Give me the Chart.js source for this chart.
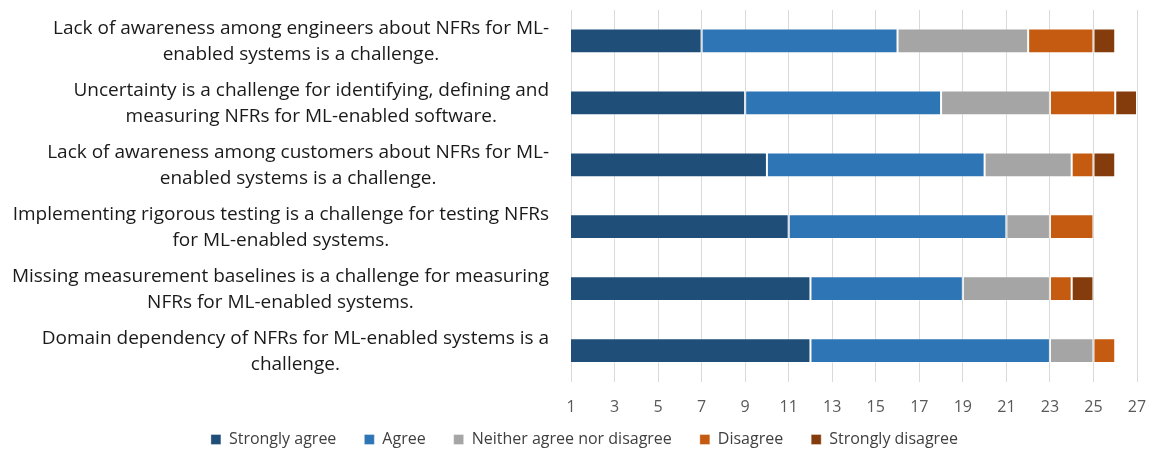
<!DOCTYPE html>
<html>
<head>
<meta charset="utf-8">
<script src="https://cdn.jsdelivr.net/npm/chart.js@4.4.1/dist/chart.umd.min.js"></script>
<style>
  html, body { margin: 0; padding: 0; background: #fff; }
  #wrap { width: 1150px; height: 453px; position: relative; }
</style>
</head>
<body>
<div id="wrap"><canvas id="myChart"></canvas></div>
<script>
// categorías (cada una en dos líneas, como en el original)
const categorias = [
    ['Lack of awareness among engineers about NFRs for ML-', 'enabled systems is a challenge.'],
    ['Uncertainty is a challenge for identifying, defining and', 'measuring NFRs for ML-enabled software.'],
    ['Lack of awareness among customers about NFRs for ML-', 'enabled systems is a challenge.'],
    ['Implementing rigorous testing is a challenge for testing NFRs', 'for ML-enabled systems.'],
    ['Missing measurement baselines is a challenge for measuring', 'NFRs for ML-enabled systems.'],
    ['Domain dependency of NFRs for ML-enabled systems is a', 'challenge.']
];

// respuestas por categoría
const stronglyAgree    = [7, 9, 10, 11, 12, 12];
const agree            = [9, 9, 10, 10, 7, 11];
const neither          = [6, 5, 4, 2, 4, 2];
const disagree         = [3, 3, 1, 2, 1, 1];
const stronglyDisagree = [1, 1, 1, 0, 1, 0];

const serieNombres = ['Strongly agree', 'Agree', 'Neither agree nor disagree', 'Disagree', 'Strongly disagree'];
const serieColores = ['#1F4E79', '#2E75B6', '#A5A5A5', '#C55A11', '#843C0C'];

// eje x
const ejeMin = 1;
const ejeMax = 27;
const ejePaso = 2;

const FUENTE = '"Open Sans", "Noto Sans", sans-serif';

const datos = [stronglyAgree, agree, neither, disagree, stronglyDisagree];

// Etiquetas del eje y: bloque alineado a la derecha, líneas centradas dentro del bloque
const etiquetasY = {
    id: 'etiquetasY',
    afterDraw(chart) {
        const c = chart.ctx;
        const escala = chart.scales.y;
        const derecha = chart.chartArea.left - 22;
        const altoLinea = 26;
        c.save();
        c.font = '19px ' + FUENTE;
        c.fillStyle = '#1a1a1a';
        c.textAlign = 'center';
        c.textBaseline = 'middle';
        categorias.forEach((lineas, i) => {
            const yc = escala.getPixelForValue(i) + 1;
            const bloque = Math.max(...lineas.map(l => c.measureText(l).width));
            const centro = derecha - bloque / 2;
            lineas.forEach((l, j) => {
                c.fillText(l, centro, yc + (j - (lineas.length - 1) / 2) * altoLinea);
            });
        });
        c.restore();
    }
};

// Leyenda más baja y un poco a la derecha
const leyendaAjuste = {
    id: 'leyendaAjuste',
    beforeInit(chart) {
        const leyenda = chart.legend;
        const fitOriginal = leyenda.fit;
        leyenda.fit = function () {
            fitOriginal.call(this);
            this.height = 49.5;
        };
        const drawOriginal = leyenda._draw;
        leyenda._draw = function () {
            this.ctx.save();
            this.ctx.translate(12, 0);
            drawOriginal.call(this);
            this.ctx.restore();
        };
    }
};

const ctx = document.getElementById('myChart');
new Chart(ctx, {
    type: 'bar',
    data: {
        labels: categorias,
        datasets: datos.map((d, i) => ({
            label: serieNombres[i],
            data: d,
            backgroundColor: serieColores[i],
            borderColor: 'rgba(255,255,255,0.35)',
            borderWidth: 1,
            borderSkipped: false,
            barPercentage: 0.4,
            categoryPercentage: 1
        }))
    },
    plugins: [etiquetasY, leyendaAjuste],
    options: {
        indexAxis: 'y',
        responsive: true,
        maintainAspectRatio: false,
        animation: false,
        layout: { padding: { left: 8, right: 13, top: 10, bottom: 0 } },
        scales: {
            x: {
                stacked: true,
                min: ejeMin,
                max: ejeMax,
                border: { display: false },
                grid: { color: '#D9D9D9', drawTicks: false },
                afterFit: (scale) => {
                    scale.height = 22;
                    scale.paddingLeft = 0;
                    scale.paddingRight = 0;
                    // que los números no se recorten al alto del eje
                    scale._computeLabelArea = () => undefined;
                },
                ticks: {
                    stepSize: ejePaso,
                    padding: 16,
                    maxRotation: 0,
                    color: '#595959',
                    font: { family: FUENTE, size: 16 }
                }
            },
            y: {
                stacked: true,
                border: { display: false },
                grid: { display: false, drawTicks: false },
                ticks: { display: false },
                afterFit: (scale) => {
                    scale.width = 563;
                    scale.paddingTop = 0;
                    scale.paddingBottom = 0;
                }
            }
        },
        plugins: {
            legend: {
                position: 'bottom',
                labels: {
                    boxWidth: 10,
                    boxHeight: 10,
                    padding: 28,
                    color: '#404040',
                    font: { family: FUENTE, size: 16 }
                }
            },
            tooltip: { enabled: false }
        }
    }
});
</script>
</body>
</html>
